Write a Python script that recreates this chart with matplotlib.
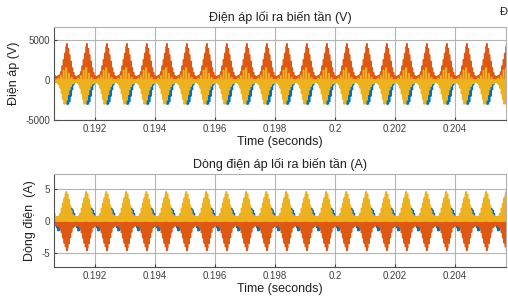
import numpy as np
import matplotlib
matplotlib.use('Agg')
import matplotlib.pyplot as plt

plt.rcParams['font.family'] = ['Liberation Sans', 'DejaVu Sans']
plt.rcParams['axes.unicode_minus'] = False

# one switching period (1/1500 s), 30 samples, hump peak at index 15
T = 1 / 1500.0
t_start = 0.190028
n_periods = 25

# top: output voltage (V)
v_blue = [0, 300, 0, 400, 0, 500, 0, 400, -500, 300, -1200, 200, -1900, 0, -2500,
          0, -3000, 0, -3000, 0, -2700, 0, -2000, 0, -1200, 0, -600, 0, -300, 0]
v_orange = [0, 400, 0, 500, 0, 600, 0, 1000, 0, 1700, 0, 2500, 0, 3300, 0,
            4100, 4500, 0, 3900, 0, 3100, 0, 2300, 0, 1500, 0, 900, 0, 500, 0]
v_yellow = [-300, 0, -400, 200, -600, 0, -1000, 500, -1700, 0, -2400, 1200, -3000, 0, -2900,
            1500, -2500, 0, -1800, 800, -1200, 0, -800, 300, -500, 0, -400, 0, -300, 0]

# bottom: output current (A)
i_blue = [0, -1.0, 0, -1.5, 0, -1.4, 0, -0.8, 0, -0.4, 0, 0.3, 0, 0.5, 0,
          0.8, 0, 1.0, 0, 1.3, 0, 1.6, 0, 2.0, 0, 1.7, 0, 1.2, 0, 0.5]
i_orange = [-0.7, 0, -0.7, 0, -0.8, 0, -1.1, 0, -1.8, 0, -2.6, 0, -3.4, 0, -4.0,
            0, -4.6, -4.2, 0, -3.5, 0, -2.6, 0, -1.7, 0, -1.0, 0, -0.8, 0, -0.7]
i_yellow = [0.7, 0, 0.7, 0, 0.8, 0, 1.2, 0, 2.0, 0, 2.8, 0, 3.6, 0, 4.2,
            4.6, 0, 4.2, 0, 3.4, 0, 2.5, 0, 1.6, 0, 1.0, 0, 0.8, 0, 0.7]

xticks = [0.192, 0.194, 0.196, 0.198, 0.2, 0.202, 0.204]
xlim = (0.19063, 0.2057)

colors = ['#0072BD', '#DE5812', '#EDB120']

n = len(v_blue)
t = t_start + np.arange(n * n_periods) * T / n

fig = plt.figure(figsize=(5.08, 3.0), dpi=100)
ax1 = fig.add_axes([54 / 508, 1 - 120 / 300, 452 / 508, 93 / 300])
ax2 = fig.add_axes([54 / 508, 1 - 267 / 300, 452 / 508, 93 / 300])


def style(ax, title, ylabel, ylim, yticks):
    ax.set_xlim(*xlim)
    ax.set_ylim(*ylim)
    ax.set_xticks(xticks)
    ax.set_xticklabels(['%g' % x for x in xticks])
    ax.set_yticks(yticks)
    ax.set_yticklabels(['%g' % y for y in yticks])
    ax.grid(True, color='#b4b4b4', lw=0.8)
    ax.set_axisbelow(True)
    ax.tick_params(direction='in', length=2.5, labelsize=7, colors='#404040', pad=3)
    for s in ['bottom', 'left']:
        ax.spines[s].set_color('#505050')
    for s in ['top', 'right']:
        ax.spines[s].set_color('#b0b0b0')
    ax.set_title(title, fontsize=9, color='#202020', pad=4)
    ax.set_xlabel('Time (seconds)', fontsize=9, color='#202020', labelpad=1)
    ax.set_ylabel(ylabel, fontsize=9, color='#202020', labelpad=4)


for vals, c in zip([v_blue, v_orange, v_yellow], colors):
    ax1.plot(t, np.tile(vals, n_periods), color=c, lw=1.0, drawstyle='steps-post')
for vals, c in zip([i_blue, i_orange, i_yellow], colors):
    ax2.plot(t, np.tile(vals, n_periods), color=c, lw=1.0, drawstyle='steps-post')

style(ax1, 'Điện áp lối ra biến tần (V)', 'Điện áp (V)', (-5000, 6600), [-5000, 0, 5000])
style(ax2, 'Dòng điện áp lối ra biến tần (A)', 'Dòng điện  (A)', (-7.2, 7.4), [-5, 0, 5])

fig.text(500 / 508, 1 - 12 / 300, 'Đ', fontsize=8, color='#202020', va='center', ha='left')

fig.savefig('out.png', dpi=100)
